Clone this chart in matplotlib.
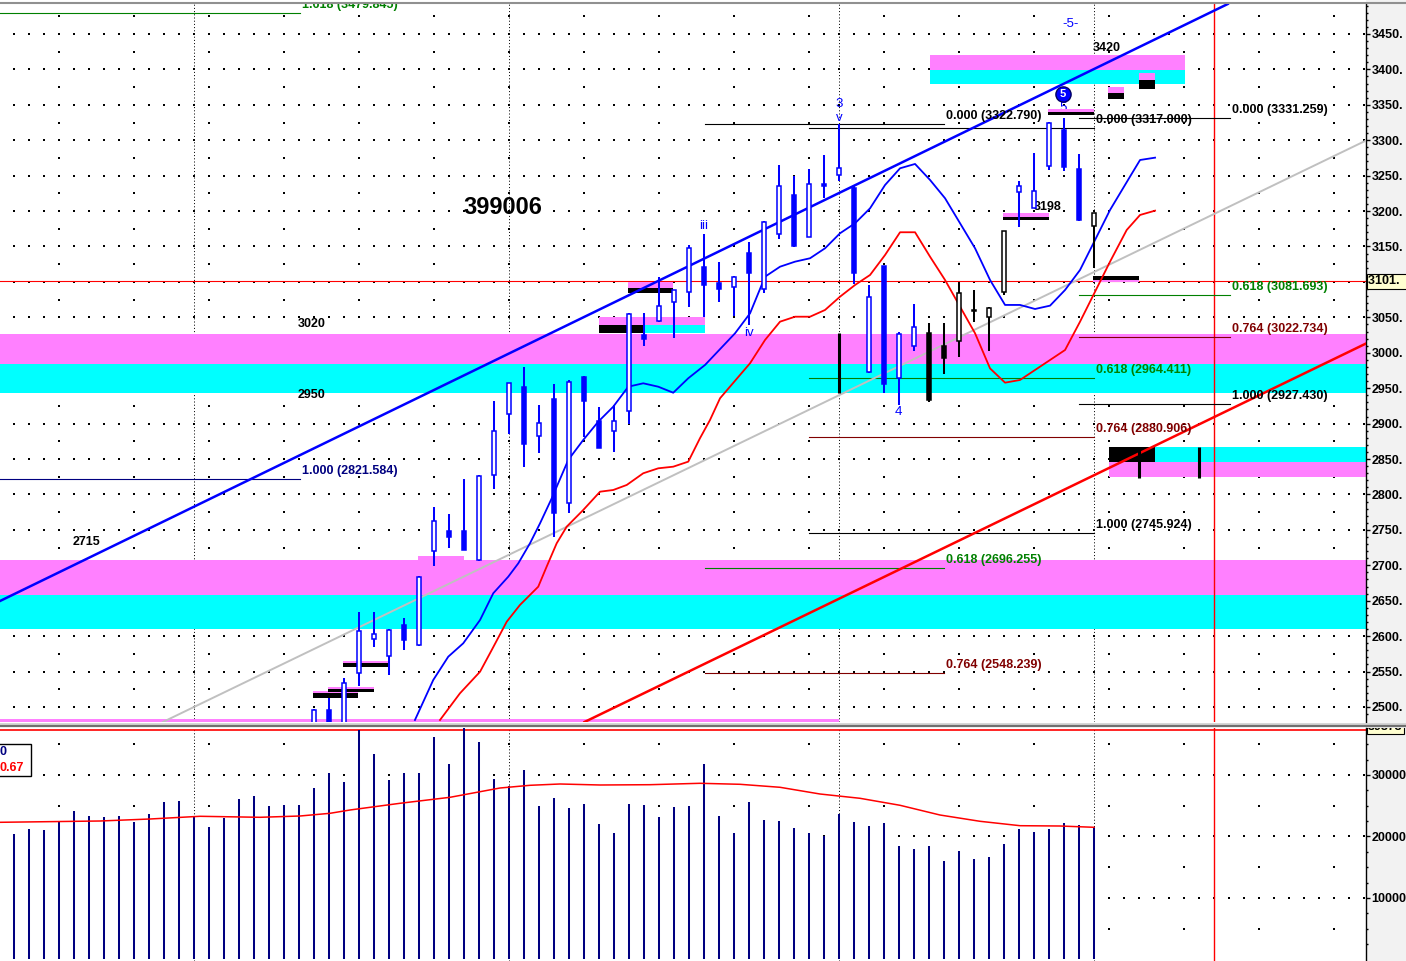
import numpy as np
import matplotlib
matplotlib.use("Agg")
import matplotlib.pyplot as plt
from matplotlib.patches import Rectangle
from matplotlib.lines import Line2D
import matplotlib.transforms as mtransforms

plt.rcParams['font.family'] = ['Liberation Sans', 'DejaVu Sans']

# ---------------- data ----------------
candle_index = list(range(20, 73))
candle_open = [2470, 2496, 2478, 2548, 2596, 2572, 2616, 2587, 2720, 2748,
               2748, 2707, 2827, 2914, 2952, 2882, 2935, 2788, 2966, 2903,
               2890, 2918, 3025, 3045, 3072, 3086, 3121, 3098, 3093, 3141,
               3090, 3168, 3222, 3164, 3238, 3251, 3233, 2973, 3123, 2965,
               3009, 3028, 3009, 3017, 3061, 3051, 3086, 3227, 3204, 3264,
               3315, 3260, 3179]
candle_high = [2497, 2513, 2541, 2634, 2634, 2610, 2626, 2685, 2782, 2772,
               2822, 2827, 2932, 2958, 2980, 2926, 2956, 2962, 2967, 2924,
               2926, 3056, 3056, 3107, 3089, 3152, 3168, 3128, 3108, 3156,
               3186, 3265, 3250, 3259, 3279, 3322.79, 3235, 3096, 3123, 3030,
               3069, 3042, 3042, 3100, 3088, 3065, 3172, 3242, 3282, 3326,
               3332, 3281, 3197]
candle_low = [2460, 2462, 2470, 2529, 2585, 2545, 2580, 2586, 2699, 2725,
              2721, 2706, 2808, 2885, 2839, 2858, 2740, 2774, 2881, 2865,
              2860, 2899, 3009, 3044, 3021, 3064, 3051, 3071, 3052, 3039,
              3084, 3161, 3149, 3163, 3219, 3242, 3097, 2972, 2943, 2926,
              3002, 2931, 2970, 2994, 3044, 3002, 3082, 3178, 3204, 3258,
              3257, 3186, 3119]
candle_close = [2496, 2470, 2534, 2607, 2603, 2609, 2595, 2684, 2763, 2740,
                2722, 2826, 2890, 2957, 2871, 2901, 2774, 2959, 2932, 2866,
                2904, 3055, 3019, 3066, 3088, 3148, 3095, 3090, 3107, 3113,
                3185, 3236, 3150, 3238, 3236, 3261, 3113, 3079, 2956, 3027,
                3037, 2933, 2993, 3084, 3059, 3063, 3172, 3235, 3229, 3325,
                3262, 3187, 3197]
candle_color = ['b'] * 41 + ['k'] * 6 + ['b'] * 5 + ['k']

volume_index = list(range(0, 73))
volume = [20407, 21220, 21057, 22407, 24146, 23333, 23170, 23333, 22358, 23659,
          25610, 25772, 23220, 21545, 23008, 26098, 26585, 24959, 25122, 25122,
          27886, 30325, 28862, 37300, 33415, 29187, 30325, 30325, 36179, 31789,
          39873, 35366, 29350, 28260, 30813, 24959, 26260, 24634, 25285, 22033,
          20569, 25285, 25122, 23170, 24797, 24959, 31789, 23333, 20569, 25610,
          22683, 22520, 21382, 20569, 20081, 23659, 22358, 21707, 22195, 18455,
          17967, 18455, 16016, 17642, 16341, 16667, 18780, 21220, 20732, 21220,
          22195, 21870, 21545]

vol_ma_index = [-0.93, 5.73, 9.07, 12.4, 16.4, 19.07, 21.07, 22.4, 25.73, 29.07,
                32.4, 34.4, 36.4, 39.07, 42.4, 45.73, 48.4, 51.07, 53.73, 56.4,
                59.07, 61.73, 64.4, 67.07, 69.73, 72]
vol_ma = [22309, 22520, 22846, 23285, 23122, 23333, 23772, 24309, 25398, 26374,
          27886, 28325, 28537, 28374, 28423, 28650, 28488, 28000, 26911, 26211,
          25073, 23496, 22472, 21756, 21707, 21496]

ma_fast_index = [26.73, 27.95, 28.95, 29.95, 31.07, 31.95, 32.95, 33.62, 34.4, 35.07,
                 35.85, 36.95, 37.95, 38.95, 39.95, 40.95, 41.95, 42.95, 43.95, 44.95,
                 46.07, 48.07, 49.07, 50.07, 51.07, 52.07, 53.07, 54.07, 55.07, 56.07,
                 57.07, 58.07, 59.07, 60.07, 61.07, 62.07, 63.07, 64.07, 65.07, 66.07,
                 67.07, 68.07, 69.07, 70.07, 71.07, 72.07, 73.07, 74.4, 75.07, 76.07]
ma_fast = [2481.6, 2538.1, 2571.0, 2589.9, 2622.8, 2660.5, 2683.9, 2702.8, 2731.1, 2759.3,
           2794.6, 2848.7, 2876.9, 2902.7, 2923.9, 2952.1, 2956.9, 2952.1, 2943.6, 2964.0,
           2982.8, 3027.5, 3055.7, 3107.4, 3121.5, 3128.6, 3133.4, 3147.5, 3168.7, 3182.8,
           3203.9, 3236.8, 3260.4, 3266.5, 3243.9, 3218.1, 3182.8, 3147.5, 3102.7, 3067.5,
           3067.5, 3061.8, 3066.5, 3088.6, 3116.9, 3159.2, 3201.6, 3248.6, 3272.1, 3275.4]

ma_slow_index = [28.4, 29.73, 31.07, 31.85, 32.85, 33.73, 34.95, 35.51, 36.18, 36.85,
                 37.95, 39.07, 39.95, 40.85, 41.95, 42.95, 43.95, 44.95, 45.73, 46.4,
                 47.07, 49.07, 50.07, 51.07, 52.07, 53.07, 54.07, 55.07, 56.07, 57.07,
                 58.07, 59.07, 60.07, 61.07, 62.07, 63.07, 64.07, 65.07, 66.07, 67.07,
                 68.07, 69.07, 70.07, 71.07, 72.07, 73.07, 74.18, 75.07, 76.07]
ma_slow = [2481.6, 2519.3, 2549.8, 2580.5, 2620.4, 2644.0, 2669.8, 2698.1, 2731.1, 2754.6,
           2778.1, 2803.9, 2806.3, 2813.4, 2829.9, 2836.9, 2839.2, 2846.3, 2879.3, 2905.1,
           2935.8, 2985.2, 3018.1, 3043.9, 3050.9, 3050.9, 3060.4, 3079.2, 3095.7, 3109.8,
           3138.0, 3170.1, 3170.1, 3135.6, 3102.7, 3065.1, 3027.5, 2977.9, 2957.8, 2961.6,
           2975.7, 2989.8, 3003.9, 3043.9, 3086.2, 3128.6, 3173.3, 3194.5, 3200.6]

# trend lines: two anchor points each (bar index, price)
trend_index = [0, 72]
trend_upper = [2659.2, 3400.5]
trend_middle = [2377.2, 3114.0]
trend_lower = [2088.8, 2827.1]

# Fibonacci levels
fib_labels = ['1.618 (3479.845)', '1.000 (2821.584)',
              '0.000 (3322.790)', '0.618 (2696.255)', '0.764 (2548.239)',
              '0.000 (3317.000)', '0.618 (2964.411)', '0.764 (2880.906)', '1.000 (2745.924)',
              '0.000 (3331.259)', '0.618 (3081.693)', '0.764 (3022.734)', '1.000 (2927.430)']
fib_values = [3479.845, 2821.584, 3322.790, 2696.255, 2548.239, 3317.000, 2964.411,
              2880.906, 2745.924, 3331.259, 3081.693, 3022.734, 2927.430]
fib_start = [-1, -1, 46.07, 46.07, 46.07, 53, 53, 53, 53, 71, 71, 71, 71]
fib_end = [19.07, 19.07, 62, 62, 62, 72, 72, 72, 72, 81.07, 81.07, 81.07, 81.07]
fib_colors = ['#008000', '#000080', '#000000', '#008000', '#800000', '#000000', '#008000',
              '#800000', '#000000', '#000000', '#008000', '#800000', '#000000']

# support / resistance zones and markers: x0, x1, low, high, colour
PINK, CYAN, BLACK = '#FF80FF', '#00FFFF', '#000000'
zone_x0 = [-1, -1, -1, -1, 61.07, 61.07, 73, 73, 73, -1,
           19.93, 19.93, 20.95, 20.95, 21.95, 21.95, 26.95, 39, 39, 41.93,
           40.95, 40.95, 65.93, 65.93, 68.93, 68.93, 72.9, 72.9, 75, 75, 71.95, 71.95]
zone_x1 = [91, 91, 91, 91, 78.07, 78.07, 91, 91, 76.07, 55,
           22.93, 22.93, 24.0, 24.0, 24.95, 24.95, 30, 46.07, 41.93, 46.07,
           43.95, 43.95, 69.0, 69.0, 72.0, 72.0, 74.0, 74.0, 76.07, 76.07, 75.0, 75.0]
zone_lo = [2984.2, 2943.2, 2658.1, 2609.4, 3399.2, 3379.8, 2846.2, 2824.7, 2846.2, 2478,
           2519.3, 2513.1, 2525.8, 2521.6, 2561.7, 2556.0, 2707.5, 3038.8, 3027.5, 3027.5,
           3091.0, 3084.0, 3192.1, 3187.4, 3340.3, 3335.7, 3367.1, 3358.2, 3385.1, 3372.4,
           3100.3, 3102.7]
zone_hi = [3026.5, 2984.2, 2707.5, 2658.1, 3420.4, 3399.2, 2867.4, 2846.2, 2867.4, 2482.5,
           2522.6, 2519.3, 2528.6, 2525.8, 2564.9, 2561.7, 2713.1, 3050.9, 3038.8, 3038.8,
           3100.3, 3091.0, 3196.9, 3192.1, 3343.7, 3340.3, 3374.8, 3367.1, 3395.4, 3385.1,
           3102.7, 3108.4]
zone_color = [PINK, CYAN, PINK, CYAN, PINK, CYAN, CYAN, PINK, BLACK, PINK,
              PINK, BLACK, PINK, BLACK, PINK, BLACK, PINK, PINK, BLACK, CYAN,
              PINK, BLACK, PINK, BLACK, PINK, BLACK, PINK, BLACK, PINK, BLACK,
              PINK, BLACK]

# black vertical projection bars
bar_index = [55, 75, 79]
bar_lo = [2943.2, 2823.2, 2823.2]
bar_hi = [3027.9, 2867.4, 2867.4]

last_price = 3101
future_line_index = 80
month_lines = [12, 33, 55, 72]

# ---------------- layout ----------------
W, H = 1406, 961
fig = plt.figure(figsize=(W / 100, H / 100), dpi=100)
fig.patch.set_facecolor('white')


def frect(x0, y0, x1, y1):
    return [x0 / W, 1 - y1 / H, (x1 - x0) / W, (y1 - y0) / H]


fig.add_artist(Rectangle((1366 / W, 0), 40 / W, 1, transform=fig.transFigure,
                         facecolor='#f2f2f2', edgecolor='none', zorder=0))

ax = fig.add_axes(frect(0, 4, 1366, 722))
axv = fig.add_axes(frect(0, 728, 1366, 961))

XMIN, XMAX = -14 / 15, (1366 - 14) / 15
ax.set_xlim(XMIN, XMAX)
ax.set_ylim(2478.8, 3492.3)
axv.set_xlim(XMIN, XMAX)
axv.set_ylim(-244, 37642)

for a in (ax, axv):
    a.set_facecolor('white')
    for s in ('top', 'left', 'bottom'):
        a.spines[s].set_visible(False)
    a.spines['right'].set_color('black')
    a.spines['right'].set_linewidth(1)
    a.set_xticks([])
    a.yaxis.tick_right()
    a.tick_params(axis='y', which='major', direction='out', length=3, width=1,
                  pad=1, labelsize=9, colors='black')
    a.tick_params(axis='y', which='minor', direction='out', length=1.2, width=1)

ticks = list(range(2500, 3451, 50))
ax.set_yticks(ticks)
ax.set_yticklabels(['' if t == 3100 else f'{t}.' for t in ticks], fontweight='bold')
ax.set_yticks(np.arange(2490, 3491, 10), minor=True)
axv.set_yticks([10000, 20000, 30000])
axv.set_yticklabels(['10000', '20000', '30000'], fontweight='bold')
axv.set_yticks(np.arange(2500, 37500, 2500), minor=True)

# dotted background grid
gx = np.arange(0, 91)
gx5 = np.arange(3, 91, 5)
for yv in range(2500, 3451, 50):
    ax.scatter(gx, np.full(gx.shape, yv), s=0.6, c='black', marker='s', lw=0, zorder=0.5)
for yv in range(2525, 3476, 50):
    ax.scatter(gx5, np.full(gx5.shape, yv), s=0.6, c='black', marker='s', lw=0, zorder=0.5)
for yv in (10000, 20000, 30000):
    axv.scatter(gx, np.full(gx.shape, yv), s=0.6, c='black', marker='s', lw=0, zorder=0.5)
for yv in (5000, 15000, 25000, 35000):
    axv.scatter(gx5, np.full(gx5.shape, yv), s=0.6, c='black', marker='s', lw=0, zorder=0.5)
for m in month_lines:
    ax.axvline(m, color='black', lw=0.72, ls=(0, (1, 2.2)), zorder=0.6)
    axv.axvline(m, color='black', lw=0.72, ls=(0, (1, 2.2)), zorder=0.6)

# zones
for x0, x1, lo, hi, col in zip(zone_x0, zone_x1, zone_lo, zone_hi, zone_color):
    z = 1 if col != BLACK and (x1 - x0) > 10 else 2.5
    ax.add_patch(Rectangle((x0, lo), x1 - x0, hi - lo, facecolor=col, edgecolor='none', zorder=z))

# last price line / future line
ax.axhline(last_price, color='#ff0000', lw=0.8, zorder=2)
ax.axvline(future_line_index, color='#ff0000', lw=1, zorder=2)
axv.axvline(future_line_index, color='#ff0000', lw=1, zorder=2)
axv.axhline(37300, color='#ff0000', lw=1.2, zorder=2)

# Fibonacci lines and labels
for lab, v, x0, x1, col in zip(fib_labels, fib_values, fib_start, fib_end, fib_colors):
    ax.plot([x0, x1], [v, v], color=col, lw=0.8, zorder=2)
    ax.annotate(lab, xy=(x1, v), xytext=(1.5, 5.8), textcoords='offset points',
                ha='left', va='center', fontsize=9, fontweight='bold', color=col, zorder=6,
                annotation_clip=False, clip_on=True)

# trend lines
ax.axline((trend_index[0], trend_upper[0]), (trend_index[1], trend_upper[1]),
          color='#0000ff', lw=1.8, zorder=3)
ax.axline((trend_index[0], trend_middle[0]), (trend_index[1], trend_middle[1]),
          color='#c0c0c0', lw=1.4, zorder=3)
ax.axline((trend_index[0], trend_lower[0]), (trend_index[1], trend_lower[1]),
          color='#ff0000', lw=1.8, zorder=3)

# moving averages
ax.plot(ma_fast_index, ma_fast, color='#0000ff', lw=1.3, zorder=3.2)
ax.plot(ma_slow_index, ma_slow, color='#ff0000', lw=1.3, zorder=3.2)

# projection bars
ax.vlines(bar_index, bar_lo, bar_hi, color='black', lw=2.2, zorder=4)

# text labels (drawn under candles)
ax.text(32.57, 3204.4, '399006', fontsize=17, fontweight='bold', ha='center', va='center', zorder=3.5)
for tx, ty, tt in [(71.93, 3430.2, '3420'), (18.93, 3040.6, '3020'), (18.93, 2940.4, '2950'),
                   (3.93, 2732.9, '2715'), (68.0, 3205.8, '3198')]:
    ax.text(tx, ty, tt, fontsize=9, fontweight='bold', ha='left', va='center', zorder=3.5)

# candles
bw = 0.24
for i, o, h, l, c, col in zip(candle_index, candle_open, candle_high, candle_low,
                              candle_close, candle_color):
    colr = '#0000ff' if col == 'b' else '#000000'
    ax.vlines(i, l, h, color=colr, lw=1.45, zorder=4)
    bottom = min(o, c)
    height = max(abs(c - o), 1.6)
    face = colr if c < o else 'white'
    ax.add_patch(Rectangle((i - bw / 2, bottom), bw, height, facecolor=face,
                           edgecolor=colr, lw=1.1, zorder=4.5))

# Elliott wave labels
BL = '#0000ff'
ax.text(55, 3351.2, '3', color=BL, fontsize=9.5, ha='center', va='center', zorder=6)
ax.text(55, 3331.4, 'v', color=BL, fontsize=9.5, ha='center', va='center', zorder=6)
ax.text(46, 3179.0, 'iii', color=BL, fontsize=9.5, ha='center', va='center', zorder=6)
ax.text(49, 3027.9, 'iv', color=BL, fontsize=9.5, ha='center', va='center', zorder=6)
ax.text(58.93, 2916.4, '4', color=BL, fontsize=9.5, ha='center', va='center', zorder=6)
ax.text(69.93, 3345.5, '5', color=BL, fontsize=9.5, ha='center', va='center', zorder=2.4)
ax.text(70.47, 3464.1, '-5-', color=BL, fontsize=9.5, ha='center', va='center', zorder=6)
ax.scatter([69.93], [3365.3], s=120, c='#0000ff', edgecolors='#000060', linewidths=1, zorder=6)
ax.text(69.93, 3365.3, '5', color='white', fontsize=8, fontweight='bold',
        ha='center', va='center', zorder=7)

# last price box on axis
trans = mtransforms.blended_transform_factory(ax.transAxes, ax.transData)
ax.text(1.0015, last_price, '3101.  ', transform=trans, fontsize=9, fontweight='bold',
        ha='left', va='center', clip_on=False, zorder=10,
        bbox=dict(boxstyle='square,pad=0.12', facecolor='#ffffd0', edgecolor='black', lw=0.8))

# volume
axv.vlines(volume_index, 0, volume, color='#000080', lw=1.45, zorder=3)
axv.plot(vol_ma_index, vol_ma, color='#ff0000', lw=1.1, zorder=4)
axv.add_patch(Rectangle((-0.01, 1 - 47.7 / 233), 30.7 / 1366 + 0.01, 31.7 / 233,
                        transform=axv.transAxes, facecolor='white', edgecolor='black',
                        lw=1, zorder=6, clip_on=False))
axv.text(0.0, 1 - 24 / 233, '0', transform=axv.transAxes, color='#000080',
         fontsize=9, fontweight='bold', ha='left', va='center', zorder=7)
axv.text(0.0, 1 - 40 / 233, '0.67', transform=axv.transAxes, color='#ff0000',
         fontsize=9, fontweight='bold', ha='left', va='center', zorder=7)

# max-volume label on axis, mostly hidden under the panel separator
transv = mtransforms.blended_transform_factory(axv.transAxes, axv.transAxes)
top_lab = axv.text(1.0015, 1 + 1.0 / 233, '39873', transform=transv, fontsize=9, fontweight='bold',
                   ha='left', va='center', clip_on=True, zorder=10,
                   bbox=dict(boxstyle='square,pad=0.1', facecolor='#ffffd0', edgecolor='black', lw=0.8))
clip_bb = mtransforms.TransformedBbox(
    mtransforms.Bbox.from_extents(1366 / W, 0, 1, 1 - 727.5 / H), fig.transFigure)
top_lab.set_clip_box(clip_bb)

# frame lines
fig.add_artist(Line2D([0, 1], [1 - 2.5 / H] * 2, transform=fig.transFigure, color='#909090', lw=1.5))
fig.add_artist(Line2D([0, 1], [1 - 723.5 / H] * 2, transform=fig.transFigure, color='#d0d0d0', lw=1.2))
fig.add_artist(Line2D([0, 1], [1 - 726 / H] * 2, transform=fig.transFigure, color='#707070', lw=1.6))

fig.savefig('out.png', dpi=100, facecolor='white')
